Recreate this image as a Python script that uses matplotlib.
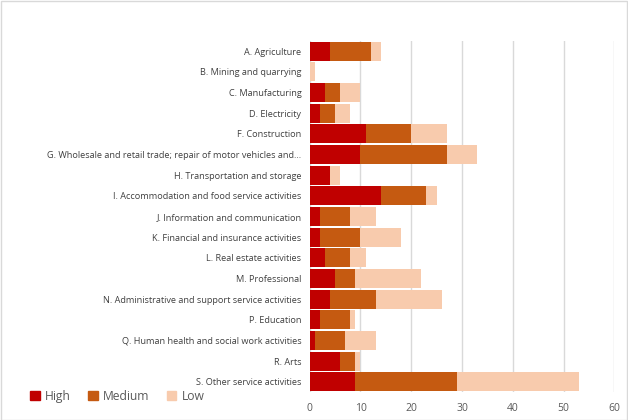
import matplotlib
matplotlib.use("Agg")
import matplotlib.pyplot as plt
from matplotlib.patches import Rectangle, Patch

# Sectors, top to bottom as in the chart
sectors = [
    "A. Agriculture",
    "B. Mining and quarrying",
    "C. Manufacturing",
    "D. Electricity",
    "F. Construction",
    "G. Wholesale and retail trade; repair of motor vehicles and...",
    "H. Transportation and storage",
    "I. Accommodation and food service activities",
    "J. Information and communication",
    "K. Financial and insurance activities",
    "L. Real estate activities",
    "M. Professional",
    "N. Administrative and support service activities",
    "P. Education",
    "Q. Human health and social work activities",
    "R. Arts",
    "S. Other service activities",
]
high = [4, 0, 3, 2, 11, 10, 4, 14, 2, 2, 3, 5, 4, 2, 1, 6, 9]
medium = [8, 0, 3, 3, 9, 17, 0, 9, 6, 8, 5, 4, 9, 6, 6, 3, 20]
low = [2, 1, 4, 3, 7, 6, 2, 2, 5, 8, 3, 13, 13, 1, 6, 1, 24]
xticks = [0, 10, 20, 30, 40, 50, 60]

c_high = "#C00000"
c_med = "#C55A11"
c_low = "#F8CBAD"

plt.rcParams["font.family"] = ["Open Sans", "DejaVu Sans"]

fig = plt.figure(figsize=(6.28, 4.2), dpi=100)
ax = fig.add_axes([0.4932, 0.0667, 0.4850, 0.8357])

y = list(range(len(sectors)))
h = 0.92
ax.barh(y, high, height=h, color=c_high, label="High")
ax.barh(y, medium, height=h, left=high, color=c_med, label="Medium")
left_low = [a + b for a, b in zip(high, medium)]
ax.barh(y, low, height=h, left=left_low, color=c_low, label="Low")

ax.set_ylim(len(sectors) - 0.5, -0.5)
ax.set_xlim(0, 60)
ax.set_xticks(xticks)
ax.set_yticks(y)
ax.set_yticklabels(sectors)
ax.tick_params(axis="y", length=0, pad=6, labelsize=6.6, labelcolor="#404040")
ax.tick_params(axis="x", length=0, pad=8, labelsize=7.5, labelcolor="#595959")
ax.xaxis.grid(True, color="#D9D9D9", linewidth=1)
ax.set_axisbelow(True)
for s in ax.spines.values():
    s.set_visible(False)

handles = [Patch(color=c_high), Patch(color=c_med), Patch(color=c_low)]
fig.legend(handles, ["High", "Medium", "Low"], loc="center left",
           bbox_to_anchor=(0.048, 0.057), ncol=3, frameon=False,
           borderpad=0, borderaxespad=0,
           fontsize=8.7, labelcolor="#595959", handlelength=0.8, handleheight=0.8,
           handletextpad=0.45, columnspacing=1.4)

fig.patches.append(Rectangle((0.001, 0.001), 0.997, 0.997, transform=fig.transFigure,
                             fill=False, edgecolor="#D9D9D9", linewidth=1))

fig.savefig("out.png", dpi=100)
